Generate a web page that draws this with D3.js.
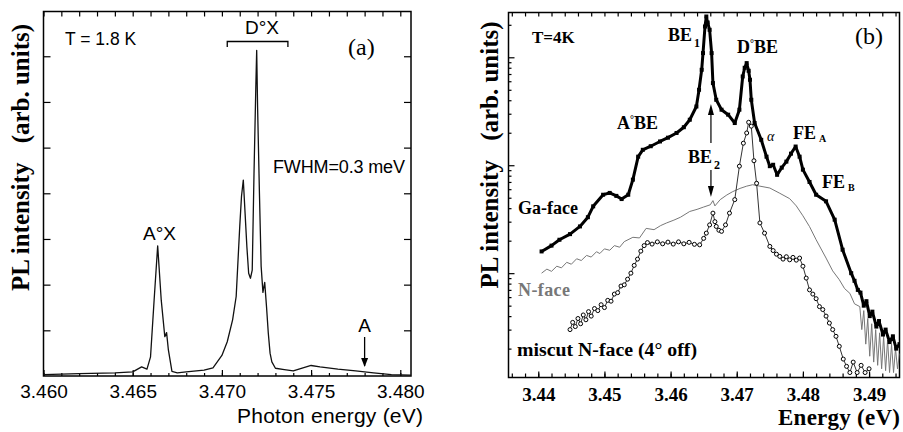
<!DOCTYPE html>
<html>
<head>
<meta charset="utf-8">
<script src="https://cdn.jsdelivr.net/npm/d3@7"></script>
<style>
  html, body { margin: 0; padding: 0; background: #fff; }
  svg { display: block; }
  .sans { font-family: "Liberation Sans", Arial, sans-serif; }
  .serif { font-family: "Liberation Serif", "Times New Roman", serif; }
</style>
</head>
<body>
<svg id="chart" width="903" height="432"></svg>
<script>
// ---------- Panel (a): high-resolution PL spectrum at 1.8 K ----------
const aEnergy = [3.4600, 3.4620, 3.4640, 3.4650, 3.4655, 3.4658, 3.4660, 3.4662, 3.4664, 3.4666,
  3.4668, 3.4669, 3.4670, 3.4672, 3.4675, 3.4680, 3.4690, 3.4695, 3.4700, 3.4703,
  3.4706, 3.4708, 3.4710, 3.4711, 3.4712, 3.4713, 3.4714, 3.4715, 3.4716, 3.4717,
  3.4718, 3.4719, 3.47195, 3.4720, 3.4721, 3.4722, 3.4723, 3.4724, 3.4725, 3.4726,
  3.4727, 3.4728, 3.4730, 3.4735, 3.4740, 3.4745, 3.4750, 3.4755, 3.4765, 3.4775,
  3.4785, 3.4795, 3.4806];
const aIntensity = [0.03, 0.05, 0.07, 0.09, 0.2, 0.15, 0.42, 1.66, 2.85, 1.66,
  0.86, 0.95, 0.57, 0.1, 0.07, 0.09, 0.13, 0.18, 0.45, 0.75,
  1.23, 1.74, 3.27, 3.94, 4.29, 3.56, 2.83, 2.25, 2.14, 2.32,
  4.44, 6.3, 7.13, 5.9, 4.07, 2.4, 1.83, 2.05, 1.52, 0.94,
  0.5, 0.31, 0.17, 0.14, 0.11, 0.17, 0.23, 0.2, 0.15, 0.11,
  0.07, 0.03, 0.02];
const aTicksX = [3.460, 3.465, 3.470, 3.475, 3.480];
const aTicksY = [1, 2, 3, 4, 5, 6, 7];

// ---------- Panel (b): PL of Ga-face, N-face and miscut N-face at 4 K ----------
const gaEnergy = [3.4405, 3.4420, 3.4432, 3.4448, 3.4463, 3.4475, 3.4483, 3.4498, 3.4508, 3.4518,
  3.4526, 3.4536, 3.4543, 3.4551, 3.4558, 3.4570, 3.4584, 3.4596, 3.4609, 3.4620,
  3.4629, 3.4639, 3.4643, 3.4647, 3.4649, 3.4652, 3.4654, 3.4656, 3.4659, 3.4662,
  3.4664, 3.4669, 3.4677, 3.4687, 3.4697, 3.4704, 3.4709, 3.4712, 3.4715, 3.4718,
  3.4720, 3.4722, 3.4727, 3.4737, 3.4745, 3.4750, 3.4755, 3.4761, 3.4768, 3.4775,
  3.4782, 3.4789, 3.4795, 3.4800, 3.4810, 3.4820, 3.4835, 3.4848, 3.4860, 3.4873,
  3.4878, 3.4883, 3.4887, 3.4892, 3.4896, 3.4901, 3.4905, 3.4911, 3.4915, 3.4921,
  3.4925, 3.4931, 3.4936, 3.4941, 3.4946];
const gaIntensity = [15.9, 18, 20.4, 23, 27.1, 33, 41.6, 53.3, 55.4, 52,
  48.6, 53.3, 73.5, 120, 139, 150, 166, 180, 199, 225,
  264, 350, 500, 766, 1094, 1928, 2387, 2100, 1798, 1094,
  577, 404, 327, 294, 246, 327, 664, 800, 883, 750,
  619, 404, 246, 172, 120, 98, 101, 81.5, 95, 108,
  128, 149, 120, 91, 70, 53.3, 46.3, 31.3, 16.5, 10,
  8.5, 7.0, 6.6, 5.0, 5.5, 4.0, 4.4, 3.2, 3.6, 2.7,
  3.0, 2.3, 2.6, 2.0, 2.2];

const nEnergy = [3.4405, 3.4413, 3.4420, 3.4428, 3.4435, 3.4443, 3.4450, 3.4458, 3.4465, 3.4473,
  3.4480, 3.4488, 3.4493, 3.4500, 3.4508, 3.4515, 3.4523, 3.4530, 3.4543, 3.4553,
  3.4563, 3.4575, 3.4585, 3.4594, 3.4605, 3.4615, 3.4629, 3.4640, 3.4650, 3.4660,
  3.4664, 3.4667, 3.4675, 3.4685, 3.4694, 3.4705, 3.4715, 3.4724, 3.4735, 3.4750,
  3.4765, 3.4780, 3.4790, 3.4800, 3.4810, 3.4820, 3.4835, 3.4845, 3.4855, 3.4863,
  3.4871, 3.4878, 3.4886, 3.4889, 3.4892, 3.4895, 3.4898, 3.4901, 3.4904, 3.4907,
  3.4910, 3.4913, 3.4916, 3.4919, 3.4922, 3.4925, 3.4928, 3.4931, 3.4934, 3.4937,
  3.4940, 3.4943, 3.4946];
const nIntensity = [10, 10.9, 10.4, 11.6, 11.2, 12.6, 12.1, 13.6, 13.1, 14.6,
  14.1, 15.8, 15.2, 16.8, 16.3, 18.0, 17.4, 19.6, 21.5, 21.2,
  26.0, 25.3, 27.6, 29.2, 31, 33, 37.3, 39, 41, 43,
  47, 42, 48, 53, 57, 61, 64, 66, 64, 61.5,
  55, 49, 42, 34, 27, 20.4, 13.8, 10.5, 8.7, 7.2,
  6.5, 5.2, 4.9, 3.0, 4.5, 2.2, 3.8, 1.7, 3.4, 1.5,
  3.0, 1.4, 2.8, 1.3, 2.6, 1.25, 2.4, 1.2, 2.2, 1.2,
  2.0, 1.3, 1.8];

const mEnergy = [3.4448, 3.4452, 3.4456, 3.4460, 3.4464, 3.4468, 3.4472, 3.4476, 3.4480, 3.4485,
  3.4490, 3.4495, 3.4500, 3.4505, 3.4510, 3.4515, 3.4520, 3.4525, 3.4530, 3.4535,
  3.4540, 3.4545, 3.4550, 3.4555, 3.4560, 3.4565, 3.4572, 3.4580, 3.4588, 3.4596,
  3.4604, 3.4612, 3.4620, 3.4628, 3.4636, 3.4644, 3.4650, 3.4654, 3.4659, 3.4664,
  3.4667, 3.4669, 3.4673, 3.4677, 3.4683, 3.4689, 3.4697, 3.4704, 3.4710, 3.4715,
  3.4718, 3.4722, 3.4726, 3.4730, 3.4735, 3.4742, 3.4750, 3.4755, 3.4760, 3.4765,
  3.4770, 3.4775, 3.4780, 3.4785, 3.4790, 3.4795, 3.4800, 3.4805, 3.4810, 3.4815,
  3.4820, 3.4825, 3.4830, 3.4835, 3.4840, 3.4845, 3.4850, 3.4855, 3.4861, 3.4866,
  3.4871, 3.4876, 3.4882, 3.4888, 3.4894, 3.4900];
const mIntensity = [3.0, 3.5, 3.2, 3.8, 3.4, 4.1, 3.7, 4.4, 4.0, 4.7,
  4.5, 5.1, 4.8, 5.6, 5.5, 6.4, 6.6, 7.6, 7.8, 8.8,
  10, 11.8, 13.5, 16, 18, 19.2, 18.6, 19.5, 18.7, 19.4,
  18.6, 19.5, 18.7, 19.3, 18.5, 18.3, 21, 23.5, 28, 36,
  30, 27.1, 25, 24.4, 28, 36, 48, 98, 160, 199,
  250, 230, 110, 68, 29.2, 23.5, 17.7, 16.2, 15.0, 14.3,
  13.5, 14.2, 13.3, 14.0, 13.2, 13.8, 11.6, 9.0, 7.0, 6.4,
  5.8, 4.9, 4.6, 4.0, 3.45, 3.0, 2.6, 2.1, 1.6, 1.37,
  1.2, 1.5, 1.2, 1.4, 1.2, 1.3];

const bTicksX = [3.44, 3.45, 3.46, 3.47, 3.48, 3.49];

const svg = d3.select("#chart");

// ===== Panel (a) =====
const A = { left: 43.5, right: 411, top: 11.5, bottom: 376 };
const xa = d3.scaleLinear().domain([3.460, 3.4806]).range([A.left, A.right]);
const ya = d3.scaleLinear().domain([0, 7.98]).range([A.bottom, A.top]);
const ga = svg.append("g");

const minorA = d3.range(3.460, 3.4805, 0.001);

ga.append("g").attr("transform", `translate(0,${A.bottom})`)
  .call(d3.axisBottom(xa).tickValues(minorA).tickSizeInner(-3).tickSizeOuter(0).tickFormat(""));
ga.append("g").attr("class", "sans").attr("transform", `translate(0,${A.bottom})`)
  .call(d3.axisBottom(xa).tickValues(aTicksX).tickSizeInner(-6).tickSizeOuter(0)
    .tickPadding(9).tickFormat(d3.format(".3f")));
ga.append("g").attr("transform", `translate(0,${A.top})`)
  .call(d3.axisTop(xa).tickValues(minorA).tickSizeInner(-5).tickSizeOuter(0).tickFormat(""));
ga.append("g").attr("transform", `translate(${A.left},0)`)
  .call(d3.axisLeft(ya).tickValues(aTicksY).tickSizeInner(-7).tickSizeOuter(0).tickFormat(""));
ga.append("g").attr("transform", `translate(${A.right},0)`)
  .call(d3.axisRight(ya).tickValues(aTicksY).tickSizeInner(-7).tickSizeOuter(0).tickFormat(""));
ga.selectAll(".domain").remove();
ga.selectAll(".tick line").attr("stroke", "#000").attr("stroke-width", 1.2);
ga.selectAll(".tick text").attr("font-size", 19).attr("fill", "#000");

ga.append("rect").attr("x", A.left).attr("y", A.top)
  .attr("width", A.right - A.left).attr("height", A.bottom - A.top)
  .attr("fill", "none").attr("stroke", "#000").attr("stroke-width", 1.5);

const aLine = d3.line().x((d, i) => xa(aEnergy[i])).y(d => ya(d));
ga.append("path").datum(aIntensity).attr("d", aLine)
  .attr("fill", "none").attr("stroke", "#111").attr("stroke-width", 1.3)
  .attr("stroke-linejoin", "round");

// annotations (a)
const ta = ga.append("g").attr("class", "sans").attr("fill", "#000");
ta.append("text").attr("x", 65).attr("y", 45).attr("font-size", 17.5).text("T = 1.8 K");
ta.append("text").attr("x", 262).attr("y", 34).attr("font-size", 19).attr("text-anchor", "middle").text("D°X");
ga.append("path")
  .attr("d", `M${xa(3.4703)},${47} V${41.5} H${xa(3.4737)} V${47}`)
  .attr("fill", "none").attr("stroke", "#000").attr("stroke-width", 1.3);
ta.append("text").attr("x", 273).attr("y", 173).attr("font-size", 18).attr("textLength", 132).text("FWHM=0.3 meV");
ta.append("text").attr("x", xa(3.4665)).attr("y", 240).attr("font-size", 19).attr("text-anchor", "middle").text("A°X");
ta.append("text").attr("x", xa(3.4780)).attr("y", 332).attr("font-size", 19).attr("text-anchor", "middle").text("A");
ga.append("line").attr("x1", xa(3.4780)).attr("x2", xa(3.4780)).attr("y1", 337).attr("y2", 366)
  .attr("stroke", "#000").attr("stroke-width", 1.3);
ga.append("path").attr("d", `M${xa(3.4780) - 3.5},${358} L${xa(3.4780)},${367} L${xa(3.4780) + 3.5},${358}`)
  .attr("fill", "#000");
ta.append("text").attr("x", 330).attr("y", 423).attr("font-size", 21).attr("text-anchor", "middle")
  .attr("textLength", 186).text("Photon energy (eV)");

// rotated serif axis title with a wide gap before the units
function yTitle(g, x, y) {
  const t = g.append("text").attr("class", "serif").attr("font-weight", "bold").attr("font-size", 25)
    .attr("fill", "#000").attr("transform", `translate(${x},${y}) rotate(-90)`).attr("text-anchor", "middle");
  t.append("tspan").text("PL intensity");
  t.append("tspan").attr("dx", 13).text(" (arb. units)");
}
yTitle(ga, 29, 157.5);
ga.append("text").attr("class", "serif").attr("font-size", 24).attr("x", 348).attr("y", 55).text("(a)");

// ===== Panel (b) =====
const B = { left: 508.5, right: 899.5, top: 12.5, bottom: 377.5 };
const xb = d3.scaleLinear().domain([3.4355, 3.4946]).range([B.left, B.right]);
const yb = d3.scaleLog().domain([1.08, 2600]).range([B.bottom, B.top]);
const gb = svg.append("g");

const minorB = d3.range(3.436, 3.4946, 0.002);
const logMajor = [10, 100, 1000];
const logMinor = [];
[1, 10, 100, 1000].forEach(dec => {
  for (let k = 2; k <= 9; k++) { const v = dec * k; if (v > 1.08 && v < 2600) logMinor.push(v); }
});

gb.append("g").attr("transform", `translate(0,${B.bottom})`)
  .call(d3.axisBottom(xb).tickValues(minorB).tickSizeInner(-4).tickSizeOuter(0).tickFormat(""));
gb.append("g").attr("class", "serif").attr("transform", `translate(0,${B.bottom})`)
  .call(d3.axisBottom(xb).tickValues(bTicksX).tickSizeInner(-6).tickSizeOuter(0)
    .tickPadding(10).tickFormat(d3.format(".2f")));
gb.append("g").attr("transform", `translate(0,${B.top})`)
  .call(d3.axisTop(xb).tickValues(minorB).tickSizeInner(-4).tickSizeOuter(0).tickFormat(""));
gb.append("g").attr("transform", `translate(${B.left},0)`)
  .call(d3.axisLeft(yb).tickValues(logMajor).tickSizeInner(-6).tickSizeOuter(0).tickFormat(""));
gb.append("g").attr("transform", `translate(${B.left},0)`)
  .call(d3.axisLeft(yb).tickValues(logMinor).tickSizeInner(-3).tickSizeOuter(0).tickFormat(""));
gb.selectAll(".domain").remove();
gb.selectAll(".tick line").attr("stroke", "#000").attr("stroke-width", 1.2);
gb.selectAll(".tick text").attr("font-size", 19).attr("font-weight", "bold").attr("fill", "#000");

gb.append("rect").attr("x", B.left).attr("y", B.top)
  .attr("width", B.right - B.left).attr("height", B.bottom - B.top)
  .attr("fill", "none").attr("stroke", "#000").attr("stroke-width", 1.5);

const clip = svg.append("defs").append("clipPath").attr("id", "clipB");
clip.append("rect").attr("x", B.left).attr("y", B.top).attr("width", B.right - B.left).attr("height", B.bottom - B.top);
const plotB = gb.append("g").attr("clip-path", "url(#clipB)");

// N-face: thin grey line
plotB.append("path").datum(nIntensity)
  .attr("d", d3.line().x((d, i) => xb(nEnergy[i])).y(d => yb(d)))
  .attr("fill", "none").attr("stroke", "#777").attr("stroke-width", 1);

// miscut N-face: open circles joined by a thin line
plotB.append("path").datum(mIntensity)
  .attr("d", d3.line().x((d, i) => xb(mEnergy[i])).y(d => yb(d)))
  .attr("fill", "none").attr("stroke", "#333").attr("stroke-width", 1);
plotB.selectAll("circle.m").data(mIntensity).join("circle").attr("class", "m")
  .attr("cx", (d, i) => xb(mEnergy[i])).attr("cy", d => yb(d)).attr("r", 2)
  .attr("fill", "#fff").attr("stroke", "#000").attr("stroke-width", 1);

// Ga-face: heavy dotted black trace
plotB.append("path").datum(gaIntensity)
  .attr("d", d3.line().x((d, i) => xb(gaEnergy[i])).y(d => yb(d)))
  .attr("fill", "none").attr("stroke", "#000").attr("stroke-width", 3).attr("stroke-linejoin", "round");
plotB.selectAll("rect.g").data(gaIntensity).join("rect").attr("class", "g")
  .attr("x", (d, i) => xb(gaEnergy[i]) - 2).attr("y", d => yb(d) - 2)
  .attr("width", 4).attr("height", 4).attr("fill", "#000");

// annotations (b)
const tb = gb.append("g").attr("class", "serif").attr("font-weight", "bold").attr("fill", "#000");
tb.append("text").attr("x", 532).attr("y", 43).attr("font-size", 17).text("T=4K");
const be1 = tb.append("text").attr("x", 668).attr("y", 41).attr("font-size", 18);
be1.append("tspan").text("BE");
be1.append("tspan").attr("font-size", 12).attr("dy", 6).attr("dx", 2).text("1");
const dbe = tb.append("text").attr("x", 737).attr("y", 53).attr("font-size", 18);
dbe.append("tspan").text("D");
dbe.append("tspan").attr("font-size", 10).attr("dy", -6).text("°");
dbe.append("tspan").attr("dy", 6).text("BE");
const abe = tb.append("text").attr("x", 617).attr("y", 129).attr("font-size", 18);
abe.append("tspan").text("A");
abe.append("tspan").attr("font-size", 10).attr("dy", -6).text("°");
abe.append("tspan").attr("dy", 6).text("BE");
const be2 = tb.append("text").attr("x", 688).attr("y", 163).attr("font-size", 18);
be2.append("tspan").text("BE");
be2.append("tspan").attr("font-size", 12).attr("dy", 6).attr("dx", 2).text("2");
const fea = tb.append("text").attr("x", 793).attr("y", 139).attr("font-size", 18);
fea.append("tspan").text("FE");
fea.append("tspan").attr("font-size", 10).attr("dy", 3).attr("dx", 3).text("A");
const feb = tb.append("text").attr("x", 822).attr("y", 188).attr("font-size", 18);
feb.append("tspan").text("FE");
feb.append("tspan").attr("font-size", 10).attr("dy", 3).attr("dx", 3).text("B");
tb.append("text").attr("x", 767).attr("y", 141).attr("font-size", 14).attr("font-style", "italic")
  .attr("font-weight", "normal").text("α");
tb.append("text").attr("x", 518).attr("y", 214).attr("font-size", 18).attr("textLength", 60).text("Ga-face");
tb.append("text").attr("x", 518).attr("y", 296).attr("font-size", 18).attr("fill", "#777")
  .attr("textLength", 52).text("N-face");
tb.append("text").attr("x", 517).attr("y", 356).attr("font-size", 18).attr("textLength", 180)
  .attr("lengthAdjust", "spacingAndGlyphs").text("miscut N-face (4° off)");
gb.append("text").attr("class", "serif").attr("font-size", 24).attr("x", 855).attr("y", 44).text("(b)");
tb.append("text").attr("x", 900).attr("y", 425).attr("font-size", 23).attr("text-anchor", "end")
  .attr("textLength", 122).attr("lengthAdjust", "spacing").text("Energy  (eV)");
yTitle(gb, 498, 155);

// BE2 arrows
const arrowX = xb(3.4661);
gb.append("line").attr("x1", arrowX).attr("x2", arrowX).attr("y1", 143).attr("y2", 108)
  .attr("stroke", "#000").attr("stroke-width", 1.2);
gb.append("path").attr("d", `M${arrowX - 3},${115} L${arrowX},${104} L${arrowX + 3},${115}Z`).attr("fill", "#000");
gb.append("line").attr("x1", arrowX).attr("x2", arrowX).attr("y1", 170).attr("y2", 192)
  .attr("stroke", "#000").attr("stroke-width", 1.2);
gb.append("path").attr("d", `M${arrowX - 3},${186} L${arrowX},${197} L${arrowX + 3},${186}Z`).attr("fill", "#000");
</script>
</body>
</html>
